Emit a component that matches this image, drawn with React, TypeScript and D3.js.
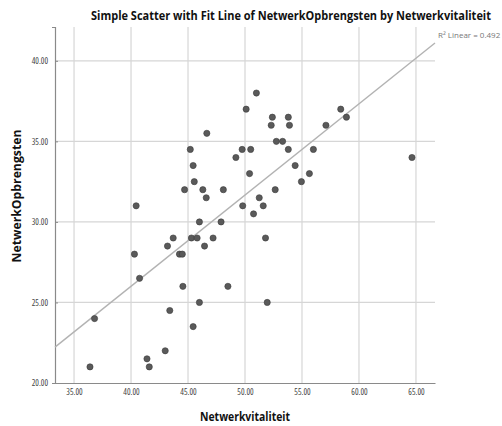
import React, { useEffect, useRef } from "react";
import * as d3 from "d3";

// Netwerkvitaliteit (x) and NetwerkOpbrengsten (y)
const vitaliteit = [
  51.0, 50.1, 58.4, 52.4, 53.8, 58.9, 52.3, 53.9, 57.1, 46.65,
  52.75, 53.3, 45.2, 49.75, 50.5, 53.8, 56.0, 49.2, 64.65, 45.45,
  54.4, 50.4, 55.65, 45.55, 54.95, 44.7, 46.3, 48.1, 52.65, 46.6,
  51.25, 40.45, 49.8, 51.6, 50.75, 46.0, 47.9, 43.7, 45.3, 45.8,
  47.2, 51.8, 43.2, 46.45, 44.25, 44.5, 40.3, 40.75, 44.55, 48.5,
  46.0, 51.95, 43.4, 45.45, 36.8, 43.0, 41.4, 41.6, 36.4,
];
const opbrengsten = [
  38.0, 37.0, 37.0, 36.5, 36.5, 36.5, 36.0, 36.0, 36.0, 35.5,
  35.0, 35.0, 34.5, 34.5, 34.5, 34.5, 34.5, 34.0, 34.0, 33.5,
  33.5, 33.0, 33.0, 32.5, 32.5, 32.0, 32.0, 32.0, 32.0, 31.5,
  31.5, 31.0, 31.0, 31.0, 30.5, 30.0, 30.0, 29.0, 29.0, 29.0,
  29.0, 29.0, 28.5, 28.5, 28.0, 28.0, 28.0, 26.5, 26.0, 26.0,
  25.0, 25.0, 24.5, 23.5, 24.0, 22.0, 21.5, 21.0, 21.0,
];
const xTicks = [35, 40, 45, 50, 55, 60, 65];
const yTicks = [20, 25, 30, 35, 40];
const r2Label = "R² Linear = 0.492";

const App = () => {
  const svgRef = useRef<SVGSVGElement>(null);

  useEffect(() => {
    const width = 502;
    const height = 426;
    const margin = { top: 27, right: 67, bottom: 43, left: 55 };

    const svg = d3.select(svgRef.current);
    svg.selectAll("*").remove();
    svg.attr("width", width).attr("height", height).style("background", "#fff");

    const x = d3
      .scaleLinear()
      .domain([33.33, 66.67])
      .range([margin.left, width - margin.right]);
    const y = d3
      .scaleLinear()
      .domain([20, 42.1])
      .range([height - margin.bottom, margin.top]);

    const font = "'Open Sans', 'Noto Sans', sans-serif";

    // grid
    svg.append("g")
      .selectAll("line")
      .data(xTicks)
      .join("line")
      .attr("x1", (d) => x(d))
      .attr("x2", (d) => x(d))
      .attr("y1", margin.top)
      .attr("y2", height - margin.bottom)
      .attr("stroke", "#d6d6d6")
      .attr("stroke-width", 1.2);
    svg.append("g")
      .selectAll("line")
      .data(yTicks.filter((d) => d > 20))
      .join("line")
      .attr("x1", margin.left)
      .attr("x2", width - margin.right)
      .attr("y1", (d) => y(d))
      .attr("y2", (d) => y(d))
      .attr("stroke", "#d6d6d6")
      .attr("stroke-width", 1.2);

    // axes
    const xAxis = svg.append("g")
      .attr("transform", `translate(0,${height - margin.bottom})`)
      .call(
        d3.axisBottom(x).tickValues(xTicks).tickSize(0).tickPadding(6)
          .tickFormat((d) => (d as number).toFixed(2))
      );
    const yAxis = svg.append("g")
      .attr("transform", `translate(${margin.left},0)`)
      .call(
        d3.axisLeft(y).tickValues(yTicks).tickSize(3).tickPadding(4)
          .tickFormat((d) => (d as number).toFixed(2))
      );
    [xAxis, yAxis].forEach((a) => {
      a.select(".domain").attr("stroke", "#8a8a8a").attr("stroke-width", 1.2);
      a.selectAll(".tick line").attr("stroke", "#8a8a8a");
      a.selectAll(".tick text")
        .attr("fill", "#444")
        .style("font-family", font)
        .style("font-size", "8.5px")
        .style("font-stretch", "condensed");
    });
    yAxis.selectAll(".tick line").attr("x2", 3);

    // fit line (least squares)
    const n = vitaliteit.length;
    const mx = d3.mean(vitaliteit) as number;
    const my = d3.mean(opbrengsten) as number;
    const sxy = d3.sum(vitaliteit, (v, i) => (v - mx) * (opbrengsten[i] - my));
    const sxx = d3.sum(vitaliteit, (v) => (v - mx) ** 2);
    const slope = sxy / sxx;
    const icpt = my - slope * mx;
    const [x0, x1] = x.domain();
    svg.append("line")
      .attr("x1", x(x0))
      .attr("y1", y(icpt + slope * x0))
      .attr("x2", x(x1))
      .attr("y2", y(icpt + slope * x1))
      .attr("stroke", "#b3b3b3")
      .attr("stroke-width", 1.4);

    // points
    svg.append("g")
      .selectAll("circle")
      .data(d3.range(n))
      .join("circle")
      .attr("cx", (i) => x(vitaliteit[i]))
      .attr("cy", (i) => y(opbrengsten[i]))
      .attr("r", 3.1)
      .attr("fill", "#5a5a5a")
      .attr("stroke", "#3a3a3a")
      .attr("stroke-width", 0.6);

    svg.append("text")
      .attr("x", 438)
      .attr("y", 38)
      .attr("fill", "#777")
      .style("font-family", font)
      .style("font-size", "8px")
      .text(r2Label);

    svg.append("text")
      .attr("x", 291)
      .attr("y", 20)
      .attr("text-anchor", "middle")
      .attr("textLength", 400)
      .attr("lengthAdjust", "spacingAndGlyphs")
      .attr("fill", "#111")
      .style("font-family", font)
      .style("font-weight", "bold")
      .style("font-size", "13px")
      .text("Simple Scatter with Fit Line of NetwerkOpbrengsten by Netwerkvitaliteit");

    svg.append("text")
      .attr("x", 245)
      .attr("y", 421)
      .attr("text-anchor", "middle")
      .attr("textLength", 90)
      .attr("lengthAdjust", "spacingAndGlyphs")
      .attr("fill", "#111")
      .style("font-family", font)
      .style("font-weight", "bold")
      .style("font-size", "13px")
      .text("Netwerkvitaliteit");

    svg.append("text")
      .attr("transform", "translate(21,196) rotate(-90)")
      .attr("text-anchor", "middle")
      .attr("textLength", 133)
      .attr("lengthAdjust", "spacingAndGlyphs")
      .attr("fill", "#111")
      .style("font-family", font)
      .style("font-weight", "bold")
      .style("font-size", "13px")
      .text("NetwerkOpbrengsten");
  }, []);

  return (
    <div style={{ position: "absolute", left: 0, top: 0 }}>
      <svg ref={svgRef} />
    </div>
  );
};

export default App;
